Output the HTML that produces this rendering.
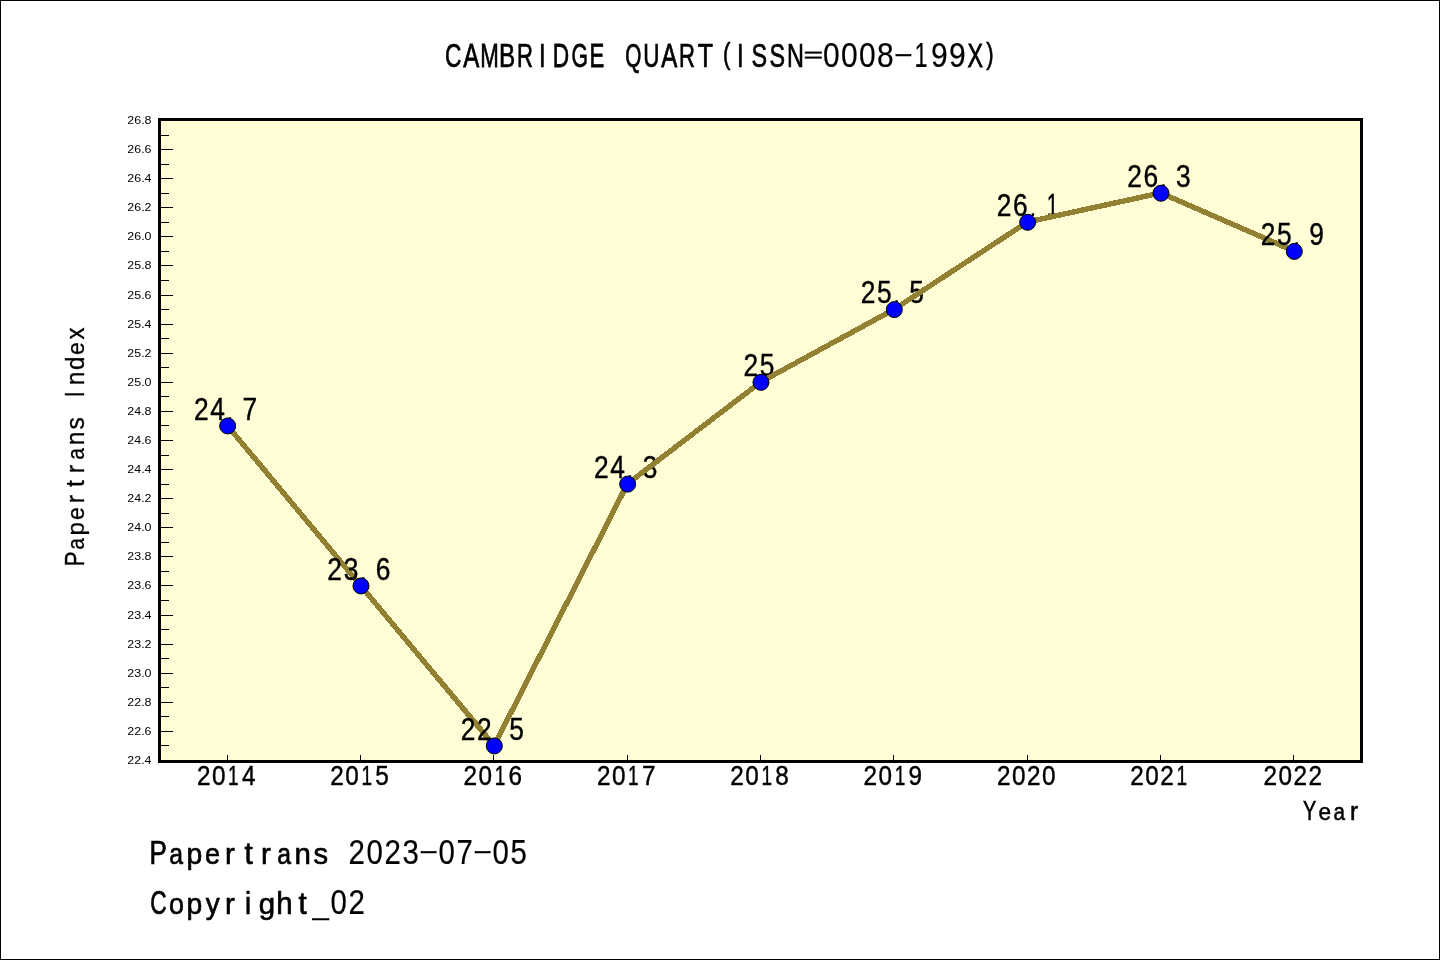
<!DOCTYPE html>
<html><head><meta charset="utf-8"><title>CAMBRIDGE QUART</title>
<style>
html,body{margin:0;padding:0;background:#fff;}
body{width:1440px;height:960px;overflow:hidden;position:relative;font-family:"Liberation Sans",sans-serif;}
svg{position:absolute;left:0;top:0;display:block;will-change:transform;}
svg text{font-family:"Liberation Sans",sans-serif;fill:#000;}
</style></head><body>
<svg width="1440" height="960" viewBox="0 0 1440 960">
<rect x="0.5" y="0.5" width="1439" height="959" fill="#fff" stroke="#000" stroke-width="1"/>
<rect x="159.5" y="119.5" width="1202" height="642" fill="#FFFDD6" stroke="#000" stroke-width="3"/>
<path d="M161 745.5h8M161 731.5h12M161 716.5h8M161 702.5h12M161 687.5h8M161 673.5h12M161 658.5h8M161 644.5h12M161 629.5h8M161 615.5h12M161 600.5h8M161 585.5h12M161 571.5h8M161 556.5h12M161 542.5h8M161 527.5h12M161 513.5h8M161 498.5h12M161 484.5h8M161 469.5h12M161 455.5h8M161 440.5h12M161 425.5h8M161 411.5h12M161 396.5h8M161 382.5h12M161 367.5h8M161 353.5h12M161 338.5h8M161 324.5h12M161 309.5h8M161 295.5h12M161 280.5h8M161 265.5h12M161 251.5h8M161 236.5h12M161 222.5h8M161 207.5h12M161 193.5h8M161 178.5h12M161 164.5h8M161 149.5h12M161 135.5h8" stroke="#000" stroke-width="1" fill="none"/>
<path d="M227.5 755V760M360.5 755V760M493.5 755V760M627.5 755V760M760.5 755V760M893.5 755V760M1027.5 755V760M1160.5 755V760M1293.5 755V760" stroke="#000" stroke-width="1" fill="none"/>
<g font-size="11.4"><text transform="translate(151.5,764.00) scale(1.09,1)" text-anchor="end">22.4</text><text transform="translate(151.5,734.91) scale(1.09,1)" text-anchor="end">22.6</text><text transform="translate(151.5,705.82) scale(1.09,1)" text-anchor="end">22.8</text><text transform="translate(151.5,676.73) scale(1.09,1)" text-anchor="end">23.0</text><text transform="translate(151.5,647.64) scale(1.09,1)" text-anchor="end">23.2</text><text transform="translate(151.5,618.55) scale(1.09,1)" text-anchor="end">23.4</text><text transform="translate(151.5,589.45) scale(1.09,1)" text-anchor="end">23.6</text><text transform="translate(151.5,560.36) scale(1.09,1)" text-anchor="end">23.8</text><text transform="translate(151.5,531.27) scale(1.09,1)" text-anchor="end">24.0</text><text transform="translate(151.5,502.18) scale(1.09,1)" text-anchor="end">24.2</text><text transform="translate(151.5,473.09) scale(1.09,1)" text-anchor="end">24.4</text><text transform="translate(151.5,444.00) scale(1.09,1)" text-anchor="end">24.6</text><text transform="translate(151.5,414.91) scale(1.09,1)" text-anchor="end">24.8</text><text transform="translate(151.5,385.82) scale(1.09,1)" text-anchor="end">25.0</text><text transform="translate(151.5,356.73) scale(1.09,1)" text-anchor="end">25.2</text><text transform="translate(151.5,327.64) scale(1.09,1)" text-anchor="end">25.4</text><text transform="translate(151.5,298.55) scale(1.09,1)" text-anchor="end">25.6</text><text transform="translate(151.5,269.45) scale(1.09,1)" text-anchor="end">25.8</text><text transform="translate(151.5,240.36) scale(1.09,1)" text-anchor="end">26.0</text><text transform="translate(151.5,211.27) scale(1.09,1)" text-anchor="end">26.2</text><text transform="translate(151.5,182.18) scale(1.09,1)" text-anchor="end">26.4</text><text transform="translate(151.5,153.09) scale(1.09,1)" text-anchor="end">26.6</text><text transform="translate(151.5,124.00) scale(1.09,1)" text-anchor="end">26.8</text></g>
<g font-size="27.62" stroke="#000" stroke-width="0.62"><text stroke-width="0.45" transform="translate(196.89,785.20) scale(0.880,1.030)">2</text><text stroke-width="0.45" transform="translate(211.89,785.20) scale(0.880,1.030)">0</text><text stroke-width="0.45" transform="translate(228.11,785.20) scale(0.688,1.030)">1</text><text stroke-width="0.45" transform="translate(241.97,785.20) scale(0.880,1.030)">4</text></g>
<g font-size="27.62" stroke="#000" stroke-width="0.62"><text stroke-width="0.45" transform="translate(330.23,785.20) scale(0.880,1.030)">2</text><text stroke-width="0.45" transform="translate(345.23,785.20) scale(0.880,1.030)">0</text><text stroke-width="0.45" transform="translate(361.44,785.20) scale(0.688,1.030)">1</text><text stroke-width="0.45" transform="translate(375.25,785.20) scale(0.880,1.030)">5</text></g>
<g font-size="27.62" stroke="#000" stroke-width="0.62"><text stroke-width="0.45" transform="translate(463.56,785.20) scale(0.880,1.030)">2</text><text stroke-width="0.45" transform="translate(478.56,785.20) scale(0.880,1.030)">0</text><text stroke-width="0.45" transform="translate(494.77,785.20) scale(0.688,1.030)">1</text><text stroke-width="0.45" transform="translate(508.48,785.20) scale(0.880,1.030)">6</text></g>
<g font-size="27.62" stroke="#000" stroke-width="0.62"><text stroke-width="0.45" transform="translate(596.89,785.20) scale(0.880,1.030)">2</text><text stroke-width="0.45" transform="translate(611.89,785.20) scale(0.880,1.030)">0</text><text stroke-width="0.45" transform="translate(628.11,785.20) scale(0.688,1.030)">1</text><text stroke-width="0.45" transform="translate(641.88,785.20) scale(0.880,1.030)">7</text></g>
<g font-size="27.62" stroke="#000" stroke-width="0.62"><text stroke-width="0.45" transform="translate(730.23,785.20) scale(0.880,1.030)">2</text><text stroke-width="0.45" transform="translate(745.23,785.20) scale(0.880,1.030)">0</text><text stroke-width="0.45" transform="translate(761.44,785.20) scale(0.688,1.030)">1</text><text stroke-width="0.45" transform="translate(775.23,785.20) scale(0.880,1.030)">8</text></g>
<g font-size="27.62" stroke="#000" stroke-width="0.62"><text stroke-width="0.45" transform="translate(863.56,785.20) scale(0.880,1.030)">2</text><text stroke-width="0.45" transform="translate(878.56,785.20) scale(0.880,1.030)">0</text><text stroke-width="0.45" transform="translate(894.77,785.20) scale(0.688,1.030)">1</text><text stroke-width="0.45" transform="translate(908.56,785.20) scale(0.880,1.030)">9</text></g>
<g font-size="27.62" stroke="#000" stroke-width="0.62"><text stroke-width="0.45" transform="translate(996.89,785.20) scale(0.880,1.030)">2</text><text stroke-width="0.45" transform="translate(1011.89,785.20) scale(0.880,1.030)">0</text><text stroke-width="0.45" transform="translate(1026.89,785.20) scale(0.880,1.030)">2</text><text stroke-width="0.45" transform="translate(1041.89,785.20) scale(0.880,1.030)">0</text></g>
<g font-size="27.62" stroke="#000" stroke-width="0.62"><text stroke-width="0.45" transform="translate(1130.23,785.20) scale(0.880,1.030)">2</text><text stroke-width="0.45" transform="translate(1145.23,785.20) scale(0.880,1.030)">0</text><text stroke-width="0.45" transform="translate(1160.23,785.20) scale(0.880,1.030)">2</text><text stroke-width="0.45" transform="translate(1176.44,785.20) scale(0.688,1.030)">1</text></g>
<g font-size="27.62" stroke="#000" stroke-width="0.62"><text stroke-width="0.45" transform="translate(1263.56,785.20) scale(0.880,1.030)">2</text><text stroke-width="0.45" transform="translate(1278.56,785.20) scale(0.880,1.030)">0</text><text stroke-width="0.45" transform="translate(1293.56,785.20) scale(0.880,1.030)">2</text><text stroke-width="0.45" transform="translate(1308.56,785.20) scale(0.880,1.030)">2</text></g>
<g font-size="27.91" stroke="#000" stroke-width="0.62"><text transform="translate(1303.06,820.30) scale(0.713,1)">Y</text><text transform="translate(1318.44,820.30) scale(0.809,0.890)">e</text><text transform="translate(1333.52,820.30) scale(0.739,0.890)">a</text><text transform="translate(1350.00,820.30) scale(0.880,0.890)">r</text></g>
<g font-size="27.91" stroke="#000" stroke-width="0.35" transform="translate(84.4,566) rotate(-90)"><text transform="translate(-0.17,0.00) scale(0.789,1)">P</text><text transform="translate(16.20,0.00) scale(0.755,0.890)">a</text><text transform="translate(30.54,0.00) scale(0.862,0.890)">p</text><text transform="translate(46.11,0.00) scale(0.826,0.890)">e</text><text transform="translate(62.80,0.00) scale(0.880,0.890)">r</text><text transform="translate(78.99,0.00) scale(0.880,0.950)">t</text><text transform="translate(92.80,0.00) scale(0.880,0.890)">r</text><text transform="translate(106.20,0.00) scale(0.755,0.890)">a</text><text transform="translate(120.65,0.00) scale(0.880,0.890)">n</text><text transform="translate(136.46,0.00) scale(0.880,0.890)">s</text><text transform="translate(168.89,0.00) scale(0.700,1)">I</text><text transform="translate(180.65,0.00) scale(0.880,0.890)">n</text><text transform="translate(196.08,0.00) scale(0.862,0.950)">d</text><text transform="translate(211.11,0.00) scale(0.826,0.890)">e</text><text transform="translate(226.52,0.00) scale(0.856,0.890)">x</text></g>
<g font-size="34.01" stroke="#000" stroke-width="0.75"><text transform="translate(445.08,67.30) scale(0.666,1)">C</text><text transform="translate(463.37,67.30) scale(0.708,1)">A</text><text transform="translate(480.14,67.30) scale(0.654,1)">M</text><text transform="translate(498.96,67.30) scale(0.713,1)">B</text><text transform="translate(517.05,67.30) scale(0.648,1)">R</text><text transform="translate(539.01,67.30) scale(0.700,1)">I</text><text transform="translate(552.82,67.30) scale(0.667,1)">D</text><text transform="translate(571.44,67.30) scale(0.622,1)">G</text><text transform="translate(589.58,67.30) scale(0.651,1)">E</text><text transform="translate(625.34,67.30) scale(0.610,1)">Q</text><text transform="translate(643.31,67.30) scale(0.659,1)">U</text><text transform="translate(661.37,67.30) scale(0.708,1)">A</text><text transform="translate(679.05,67.30) scale(0.648,1)">R</text><text transform="translate(697.76,67.30) scale(0.736,1)">T</text><text transform="translate(723.04,63.58) scale(0.652,0.880)">(</text><text transform="translate(737.01,67.30) scale(0.700,1)">I</text><text transform="translate(751.62,67.30) scale(0.686,1)">S</text><text transform="translate(769.62,67.30) scale(0.686,1)">S</text><text transform="translate(786.94,67.30) scale(0.688,1)">N</text><text transform="translate(803.60,61.85) scale(0.988,0.600)">=</text><text stroke-width="0.20" transform="translate(823.08,67.30) scale(0.880,1.030)">0</text><text stroke-width="0.20" transform="translate(841.08,67.30) scale(0.880,1.030)">0</text><text stroke-width="0.20" transform="translate(859.08,67.30) scale(0.880,1.030)">0</text><text stroke-width="0.20" transform="translate(877.08,67.30) scale(0.880,1.030)">8</text><text transform="translate(893.50,60.86) scale(1.749,0.660)">-</text><text stroke-width="0.20" transform="translate(914.57,67.30) scale(0.689,1.030)">1</text><text stroke-width="0.20" transform="translate(931.08,67.30) scale(0.880,1.030)">9</text><text stroke-width="0.20" transform="translate(949.08,67.30) scale(0.880,1.030)">9</text><text transform="translate(967.62,67.30) scale(0.685,1)">X</text><text transform="translate(986.37,63.58) scale(0.652,0.880)">)</text></g>
<g font-size="33.43" stroke="#000" stroke-width="0.75"><text transform="translate(149.57,864.20) scale(0.776,1)">P</text><text transform="translate(169.19,864.20) scale(0.741,0.890)">a</text><text transform="translate(186.42,864.20) scale(0.846,0.890)">p</text><text transform="translate(205.09,864.20) scale(0.811,0.890)">e</text><text transform="translate(224.97,864.20) scale(0.880,0.890)">r</text><text transform="translate(244.40,864.20) scale(0.880,0.950)">t</text><text transform="translate(260.97,864.20) scale(0.880,0.890)">r</text><text transform="translate(277.19,864.20) scale(0.741,0.890)">a</text><text transform="translate(294.40,864.20) scale(0.880,0.890)">n</text><text transform="translate(313.43,864.20) scale(0.873,0.890)">s</text><text stroke-width="0.20" transform="translate(348.42,864.20) scale(0.880,1.030)">2</text><text stroke-width="0.20" transform="translate(366.42,864.20) scale(0.880,1.030)">0</text><text stroke-width="0.20" transform="translate(384.42,864.20) scale(0.880,1.030)">2</text><text stroke-width="0.20" transform="translate(402.51,864.20) scale(0.880,1.030)">3</text><text transform="translate(418.70,857.87) scale(1.779,0.660)">-</text><text stroke-width="0.20" transform="translate(438.42,864.20) scale(0.880,1.030)">0</text><text stroke-width="0.20" transform="translate(456.40,864.20) scale(0.880,1.030)">7</text><text transform="translate(472.70,857.87) scale(1.779,0.660)">-</text><text stroke-width="0.20" transform="translate(492.42,864.20) scale(0.880,1.030)">0</text><text stroke-width="0.20" transform="translate(510.45,864.20) scale(0.880,1.030)">5</text></g>
<g font-size="33.43" stroke="#000" stroke-width="0.75"><text transform="translate(150.28,914.20) scale(0.677,1)">C</text><text transform="translate(169.11,914.20) scale(0.806,0.890)">o</text><text transform="translate(186.42,914.20) scale(0.846,0.890)">p</text><text transform="translate(205.63,914.20) scale(0.833,0.890)">y</text><text transform="translate(224.97,914.20) scale(0.880,0.890)">r</text><text transform="translate(245.02,914.20) scale(0.820,0.950)">i</text><text transform="translate(258.75,914.20) scale(0.880,0.890)">g</text><text transform="translate(276.35,914.20) scale(0.880,0.950)">h</text><text transform="translate(298.40,914.20) scale(0.880,0.950)">t</text><text transform="translate(312.69,914.55) scale(0.857,0.720)">_</text><text stroke-width="0.20" transform="translate(330.42,914.20) scale(0.880,1.030)">0</text><text stroke-width="0.20" transform="translate(348.42,914.20) scale(0.880,1.030)">2</text></g>
<g font-size="29.94" stroke="#000" stroke-width="0.67"><text stroke-width="0.40" transform="translate(194.02,419.75) scale(0.880,1.030)">2</text><text stroke-width="0.40" transform="translate(210.31,419.75) scale(0.880,1.030)">4</text><text stroke="none" transform="translate(226.61,419.75) scale(0.820,0.850)">.</text><text stroke-width="0.40" transform="translate(242.61,419.75) scale(0.880,1.030)">7</text></g>
<line x1="227.45" y1="425.65" x2="360.78" y2="585.65" stroke="#928133" stroke-width="5.4" stroke-linecap="round" shape-rendering="crispEdges"/>
<g font-size="29.94" stroke="#000" stroke-width="0.67"><text stroke-width="0.40" transform="translate(327.36,579.75) scale(0.880,1.030)">2</text><text stroke-width="0.40" transform="translate(343.63,579.75) scale(0.880,1.030)">3</text><text stroke="none" transform="translate(359.95,579.75) scale(0.820,0.850)">.</text><text stroke-width="0.40" transform="translate(375.87,579.75) scale(0.880,1.030)">6</text></g>
<line x1="360.78" y1="585.65" x2="494.12" y2="745.65" stroke="#928133" stroke-width="5.4" stroke-linecap="round" shape-rendering="crispEdges"/>
<g font-size="29.94" stroke="#000" stroke-width="0.67"><text stroke-width="0.40" transform="translate(460.69,739.75) scale(0.880,1.030)">2</text><text stroke-width="0.40" transform="translate(476.89,739.75) scale(0.880,1.030)">2</text><text stroke="none" transform="translate(493.28,739.75) scale(0.820,0.850)">.</text><text stroke-width="0.40" transform="translate(509.32,739.75) scale(0.880,1.030)">5</text></g>
<line x1="494.12" y1="745.65" x2="627.45" y2="483.84" stroke="#928133" stroke-width="5.4" stroke-linecap="round" shape-rendering="crispEdges"/>
<g font-size="29.94" stroke="#000" stroke-width="0.67"><text stroke-width="0.40" transform="translate(594.02,477.94) scale(0.880,1.030)">2</text><text stroke-width="0.40" transform="translate(610.31,477.94) scale(0.880,1.030)">4</text><text stroke="none" transform="translate(626.61,477.94) scale(0.820,0.850)">.</text><text stroke-width="0.40" transform="translate(642.70,477.94) scale(0.880,1.030)">3</text></g>
<line x1="627.45" y1="483.84" x2="760.78" y2="382.02" stroke="#928133" stroke-width="5.4" stroke-linecap="round" shape-rendering="crispEdges"/>
<g font-size="29.94" stroke="#000" stroke-width="0.67"><text stroke-width="0.40" transform="translate(743.56,376.12) scale(0.880,1.030)">2</text><text stroke-width="0.40" transform="translate(759.78,376.12) scale(0.880,1.030)">5</text></g>
<line x1="760.78" y1="382.02" x2="894.12" y2="309.29" stroke="#928133" stroke-width="5.4" stroke-linecap="round" shape-rendering="crispEdges"/>
<g font-size="29.94" stroke="#000" stroke-width="0.67"><text stroke-width="0.40" transform="translate(860.69,303.39) scale(0.880,1.030)">2</text><text stroke-width="0.40" transform="translate(876.92,303.39) scale(0.880,1.030)">5</text><text stroke="none" transform="translate(893.28,303.39) scale(0.820,0.850)">.</text><text stroke-width="0.40" transform="translate(909.32,303.39) scale(0.880,1.030)">5</text></g>
<line x1="894.12" y1="309.29" x2="1027.45" y2="222.02" stroke="#928133" stroke-width="5.4" stroke-linecap="round" shape-rendering="crispEdges"/>
<g font-size="29.94" stroke="#000" stroke-width="0.67"><text stroke-width="0.40" transform="translate(996.82,216.12) scale(0.880,1.030)">2</text><text stroke-width="0.40" transform="translate(1012.93,216.12) scale(0.880,1.030)">6</text><text stroke="none" transform="translate(1029.41,216.12) scale(0.820,0.850)">.</text><text stroke-width="0.40" transform="translate(1046.72,216.12) scale(0.690,1.030)">1</text></g>
<line x1="1027.45" y1="222.02" x2="1160.78" y2="192.93" stroke="#928133" stroke-width="5.4" stroke-linecap="round" shape-rendering="crispEdges"/>
<g font-size="29.94" stroke="#000" stroke-width="0.67"><text stroke-width="0.40" transform="translate(1127.36,187.03) scale(0.880,1.030)">2</text><text stroke-width="0.40" transform="translate(1143.47,187.03) scale(0.880,1.030)">6</text><text stroke="none" transform="translate(1159.95,187.03) scale(0.820,0.850)">.</text><text stroke-width="0.40" transform="translate(1176.03,187.03) scale(0.880,1.030)">3</text></g>
<line x1="1160.78" y1="192.93" x2="1294.12" y2="251.11" stroke="#928133" stroke-width="5.4" stroke-linecap="round" shape-rendering="crispEdges"/>
<g font-size="29.94" stroke="#000" stroke-width="0.67"><text stroke-width="0.40" transform="translate(1260.69,245.21) scale(0.880,1.030)">2</text><text stroke-width="0.40" transform="translate(1276.92,245.21) scale(0.880,1.030)">5</text><text stroke="none" transform="translate(1293.28,245.21) scale(0.820,0.850)">.</text><text stroke-width="0.40" transform="translate(1309.30,245.21) scale(0.880,1.030)">9</text></g>
<circle cx="227.65" cy="425.95" r="8" fill="#0000FF" stroke="#000" stroke-width="1"/>
<circle cx="360.98" cy="585.95" r="8" fill="#0000FF" stroke="#000" stroke-width="1"/>
<circle cx="494.32" cy="745.95" r="8" fill="#0000FF" stroke="#000" stroke-width="1"/>
<circle cx="627.65" cy="484.14" r="8" fill="#0000FF" stroke="#000" stroke-width="1"/>
<circle cx="760.98" cy="382.32" r="8" fill="#0000FF" stroke="#000" stroke-width="1"/>
<circle cx="894.32" cy="309.59" r="8" fill="#0000FF" stroke="#000" stroke-width="1"/>
<circle cx="1027.65" cy="222.32" r="8" fill="#0000FF" stroke="#000" stroke-width="1"/>
<circle cx="1160.98" cy="193.23" r="8" fill="#0000FF" stroke="#000" stroke-width="1"/>
<circle cx="1294.32" cy="251.41" r="8" fill="#0000FF" stroke="#000" stroke-width="1"/>
</svg>
</body></html>
